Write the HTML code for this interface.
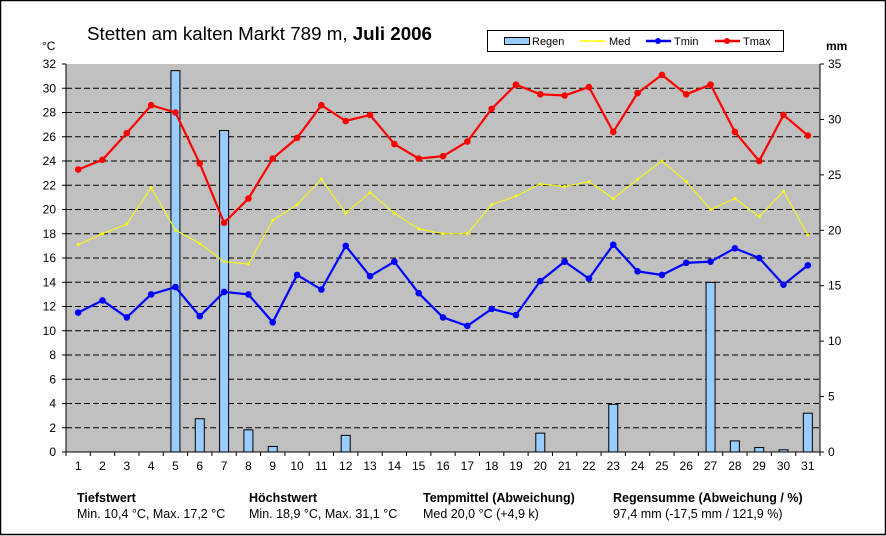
<!DOCTYPE html>
<html><head><meta charset="utf-8"><style>
html,body{margin:0;padding:0;background:#fff}
svg{display:block;font-family:"Liberation Sans",Arial,sans-serif}
</style></head><body>
<svg id="s" width="886" height="536" xmlns="http://www.w3.org/2000/svg">
<rect x="0.5" y="0.5" width="885" height="534" fill="#fff" stroke="#000" stroke-width="1.5"/>
<rect x="66" y="64" width="754" height="388" fill="#c0c0c0"/>
<g id="grid"></g>
<g id="bars"></g>
<g id="lines"></g>
<g id="axes" stroke="#000" stroke-width="1"></g>
<g id="labels" font-size="12" fill="#000"></g>
<text x="87" y="40" font-size="18" textLength="345" lengthAdjust="spacingAndGlyphs">Stetten am kalten Markt  789 m, <tspan font-weight="bold">Juli 2006</tspan></text>
<text x="42" y="50" font-size="12">°C</text>
<text x="826" y="50" font-size="12" font-weight="bold">mm</text>
<rect x="487.5" y="30.5" width="296" height="21" fill="#fff" stroke="#000"/>
<rect x="504.5" y="37.5" width="25" height="7" fill="#99ccff" stroke="#000"/>
<text x="532" y="45" font-size="11">Regen</text>
<line x1="580" y1="41" x2="605" y2="41" stroke="#ffff00" stroke-width="1.5"/>
<text x="609" y="45" font-size="11">Med</text>
<line x1="646" y1="41" x2="671" y2="41" stroke="#0000ff" stroke-width="2.5"/><circle cx="658" cy="41" r="3" fill="#0000ff"/>
<text x="674" y="45" font-size="11">Tmin</text>
<line x1="715" y1="41" x2="740" y2="41" stroke="#ff0000" stroke-width="2.5"/><circle cx="727" cy="41" r="3" fill="#ff0000"/>
<text x="743" y="45" font-size="11">Tmax</text>
<g font-size="12.5" fill="#000">
<text x="77" y="502" font-weight="bold">Tiefstwert</text>
<text x="77" y="518">Min. 10,4 °C, Max. 17,2 °C</text>
<text x="249" y="502" font-weight="bold">Höchstwert</text>
<text x="249" y="518">Min. 18,9 °C, Max. 31,1 °C</text>
<text x="423" y="502" font-weight="bold">Tempmittel (Abweichung)</text>
<text x="423" y="518">Med 20,0 °C (+4,9 k)</text>
<text x="613" y="502" font-weight="bold">Regensumme (Abweichung / %)</text>
<text x="613" y="518">97,4 mm (-17,5 mm / 121,9  %)</text>
</g>
</svg>
<script>
var NS="http://www.w3.org/2000/svg";
function el(p,t,a,txt){var e=document.createElementNS(NS,t);for(var k in a)e.setAttribute(k,a[k]);if(txt!==undefined)e.textContent=txt;document.getElementById(p).appendChild(e);return e;}
var L=66,R=820,T=64,B=452,W=(R-L)/31;
function yT(v){return B-v*(B-T)/32}
function yR(v){return B-v*(B-T)/35}
function xD(i){return L+W*(i+0.5)}
for(var v=2;v<32;v+=2)el("grid","line",{x1:L,x2:R,y1:yT(v),y2:yT(v),stroke:"#000","stroke-dasharray":"6,3","stroke-width":1});
for(var v=0;v<=32;v+=2){el("labels","text",{x:56,y:yT(v)+4,"text-anchor":"end"},v);el("axes","line",{x1:62,x2:66,y1:yT(v),y2:yT(v)});}
for(var v=0;v<=35;v+=5){el("labels","text",{x:828,y:yR(v)+4},v);el("axes","line",{x1:820,x2:824,y1:yR(v),y2:yR(v)});}
var rain=[0,0,0,0,34.4,3.0,29.0,2.0,0.5,0,0,1.5,0,0,0,0,0,0,0,1.7,0,0,4.3,0,0,0,15.3,1.0,0.4,0.2,3.5];
var tmax=[23.3,24.1,26.3,28.6,28.0,23.8,18.9,20.9,24.2,25.9,28.6,27.3,27.8,25.4,24.2,24.4,25.6,28.3,30.3,29.5,29.4,30.1,26.4,29.6,31.1,29.5,30.3,26.4,24.0,27.8,26.1];
var med=[17.1,18.0,18.8,21.8,18.3,17.2,15.7,15.5,19.1,20.4,22.5,19.7,21.4,19.7,18.4,18.0,18.0,20.4,21.1,22.1,21.9,22.3,20.9,22.5,24.0,22.3,20.0,20.9,19.4,21.5,17.9];
var tmin=[11.5,12.5,11.1,13.0,13.6,11.2,13.2,13.0,10.7,14.6,13.4,17.0,14.5,15.7,13.1,11.1,10.4,11.8,11.3,14.1,15.7,14.3,17.1,14.9,14.6,15.6,15.7,16.8,16.0,13.8,15.4];
for(var i=0;i<31;i++){
 if(rain[i]>0)el("bars","rect",{x:xD(i)-5+0.5,y:yR(rain[i]),width:9,height:B-yR(rain[i]),fill:"#99ccff",stroke:"#000","stroke-width":1});
 el("labels","text",{x:xD(i),y:470,"text-anchor":"middle"},i+1);
 el("axes","line",{x1:L+W*i,x2:L+W*i,y1:B,y2:B+4});
}
el("axes","line",{x1:R,x2:R,y1:B,y2:B+4});
function series(d,c,w,r){var p=d.map(function(v,i){return xD(i)+","+yT(v)}).join(" ");
 el("lines","polyline",{points:p,fill:"none",stroke:c,"stroke-width":w});
 d.forEach(function(v,i){el("lines","circle",{cx:xD(i),cy:yT(v),r:r,fill:c});});}
series(med,"#ffff00",1,1.5);series(tmin,"#0000ff",2.2,3.3);series(tmax,"#ff0000",2.2,3.3);
el("axes","line",{x1:L,x2:L,y1:T,y2:B});el("axes","line",{x1:R,x2:R,y1:T,y2:B});el("axes","line",{x1:L,x2:R,y1:B,y2:B});
</script>
</body></html>
